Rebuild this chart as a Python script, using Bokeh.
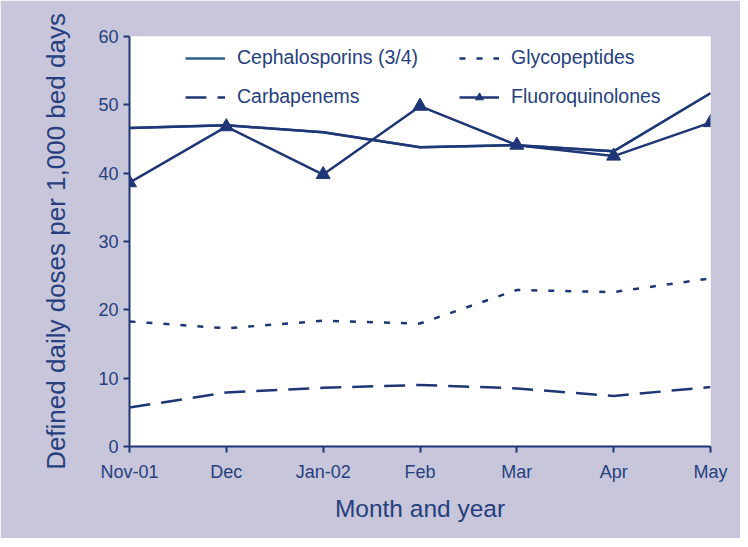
from bokeh.plotting import figure
from bokeh.models import Legend, LegendItem, FixedTicker, Range1d
from bokeh.embed import file_html
from bokeh.resources import INLINE

months = ["Nov-01", "Dec", "Jan-02", "Feb", "Mar", "Apr", "May"]
cephalosporins = [46.6, 47.0, 46.0, 43.8, 44.1, 43.2, 51.7]
glycopeptides = [18.3, 17.3, 18.4, 18.0, 22.9, 22.6, 24.6]
carbapenems = [5.7, 7.9, 8.6, 9.0, 8.5, 7.4, 8.7]
fluoroquinolones = [38.6, 46.8, 39.8, 49.8, 44.1, 42.5, 47.4]
y_ticks = [0, 10, 20, 30, 40, 50, 60]

x = list(range(len(months)))

NAVY = "#1F3676"
CEPH_KEY = "#2E5E8E"
TEXT = "#263F7E"
LAV = "#C8C6DA"
FONT = "Liberation Sans"

p = figure(width=740, height=538, output_backend="svg", toolbar_location=None,
           x_range=Range1d(0, len(months) - 1), y_range=Range1d(0, 60),
           min_border_left=129, min_border_right=30, min_border_top=36, min_border_bottom=92)
p.border_fill_color = LAV
p.background_fill_color = "white"
p.outline_line_color = None
p.grid.visible = False

# key-coloured copy underneath, fully covered by the navy line drawn on top
r_ceph_key = p.line(x, cephalosporins, line_color=CEPH_KEY, line_width=2.5)
r_ceph = p.line(x, cephalosporins, line_color=NAVY, line_width=2.5)
r_glyc = p.line(x, glycopeptides, line_color=NAVY, line_width=2.5, line_dash="6 11")
r_carb = p.line(x, carbapenems, line_color=NAVY, line_width=2.5, line_dash="21 11")
r_fluo = p.line(x, fluoroquinolones, line_color=NAVY, line_width=2.5)
r_fluo_m = p.scatter(x, fluoroquinolones, marker="triangle", size=14,
                     fill_color=NAVY, line_color=NAVY)

for ax in (p.xaxis[0], p.yaxis[0]):
    ax.axis_line_color = NAVY
    ax.axis_line_width = 2
    ax.major_tick_line_color = NAVY
    ax.major_tick_line_width = 2
    ax.major_tick_in = 0
    ax.major_tick_out = 6
    ax.minor_tick_line_color = None
    ax.major_label_text_color = TEXT
    ax.major_label_text_font = FONT
    ax.major_label_text_font_size = "18px"
    ax.axis_label_text_color = TEXT
    ax.axis_label_text_font = FONT
    ax.axis_label_text_font_style = "normal"

p.xaxis.ticker = FixedTicker(ticks=x)
p.xaxis.major_label_overrides = {i: m for i, m in enumerate(months)}
p.xaxis.major_label_standoff = 9
p.xaxis.axis_label = "Month and year"
p.xaxis.axis_label_text_font_size = "24.5px"
p.xaxis.axis_label_standoff = 10

p.yaxis.ticker = FixedTicker(ticks=y_ticks)
p.yaxis.major_label_standoff = 5
p.yaxis.axis_label = "Defined daily doses per 1,000 bed days"
p.yaxis.axis_label_text_font_size = "26px"
p.yaxis.axis_label_standoff = 24

def make_legend(items, loc):
    lg = Legend(items=items, location=loc, orientation="vertical")
    lg.background_fill_alpha = 0
    lg.border_line_color = None
    lg.padding = 0
    lg.margin = 0
    lg.spacing = 16
    lg.glyph_width = 40
    lg.glyph_height = 20
    lg.label_height = 20
    lg.label_standoff = 12
    lg.label_text_font = FONT
    lg.label_text_font_size = "19.5px"
    lg.label_text_color = TEXT
    p.add_layout(lg, "center")

make_legend([LegendItem(label="Cephalosporins (3/4)", renderers=[r_ceph_key]),
             LegendItem(label="Carbapenems", renderers=[r_carb])], (56, 338))
make_legend([LegendItem(label="Glycopeptides", renderers=[r_glyc]),
             LegendItem(label="Fluoroquinolones", renderers=[r_fluo, r_fluo_m])], (330, 338))

open("out.html", "w").write(file_html(p, INLINE))
